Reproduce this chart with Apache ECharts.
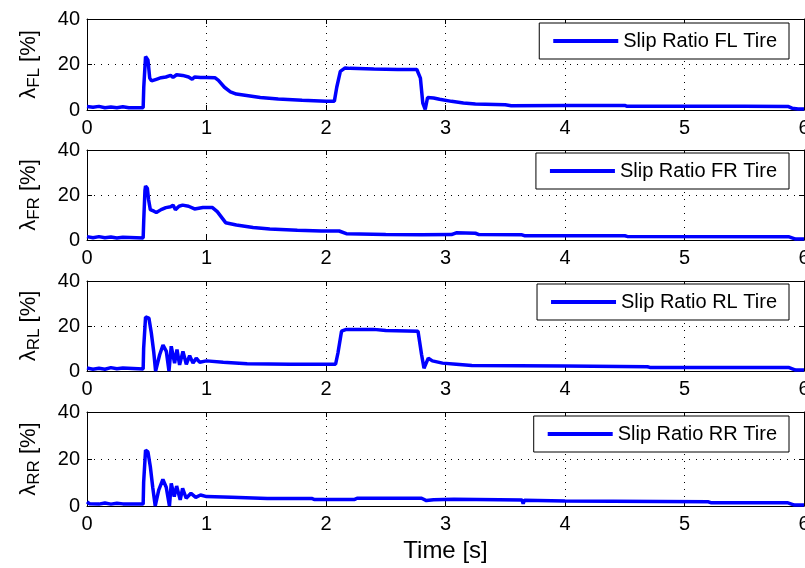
<!DOCTYPE html>
<html>
<head>
<meta charset="utf-8">
<script src="https://cdn.jsdelivr.net/npm/echarts@6/dist/echarts.min.js"></script>
<style>
  html, body { margin: 0; padding: 0; background: #fff; }
  #chart { width: 805px; height: 568px; }
</style>
</head>
<body>
<div id="chart"></div>
<script>
// slip ratio traces, [time s, slip %]
const slipFL = [[0,1.5],[0.05,1.2],[0.1,1.6],[0.15,1.0],[0.2,1.3],[0.25,1.0],[0.3,1.4],[0.35,1.0],[0.47,1.0],[0.475,10],[0.49,23.5],[0.5,24],[0.51,22],[0.525,14],[0.54,12.8],[0.58,13.5],[0.62,14.2],[0.66,14.5],[0.7,15.2],[0.72,14.3],[0.75,15.5],[0.8,15.2],[0.85,14.5],[0.88,13.5],[0.9,14.5],[0.95,14.3],[1.0,14.3],[1.07,14.2],[1.1,13],[1.15,10],[1.2,8],[1.25,7],[1.35,6.3],[1.45,5.5],[1.6,4.8],[1.8,4.3],[2.0,3.9],[2.07,3.9],[2.09,10],[2.12,17],[2.16,18.5],[2.2,18.3],[2.4,18],[2.6,17.8],[2.76,17.8],[2.79,14],[2.81,3],[2.83,0.3],[2.85,5.5],[2.9,5.3],[2.95,4.7],[3.05,3.8],[3.15,3.1],[3.25,2.6],[3.5,2.3],[3.55,1.9],[4.0,2.0],[4.5,2.0],[4.52,1.6],[5.0,1.6],[5.5,1.6],[5.87,1.5],[5.9,0.8],[5.95,0.4],[6.0,0.4]];
const slipFR = [[0,1.5],[0.05,1.0],[0.1,1.5],[0.15,1.0],[0.2,1.3],[0.25,0.9],[0.3,1.2],[0.47,0.9],[0.475,9],[0.485,22],[0.49,24],[0.505,23],[0.515,18],[0.53,13.5],[0.56,12.8],[0.58,12.2],[0.62,13.5],[0.66,14.4],[0.7,14.8],[0.72,15.5],[0.74,13.5],[0.77,15],[0.8,15.5],[0.85,15],[0.9,13.8],[0.97,14.4],[1.05,14.4],[1.09,12.6],[1.16,7.7],[1.25,6.7],[1.39,5.6],[1.53,4.9],[1.76,4.3],[1.96,4.0],[2.11,4.0],[2.17,2.8],[2.5,2.4],[2.8,2.3],[3.05,2.4],[3.09,3.2],[3.25,3.0],[3.28,2.4],[3.64,2.3],[3.66,1.9],[4.5,1.9],[4.52,1.6],[5.87,1.5],[5.93,0.4],[6.0,0.4]];
const slipRL = [[0,1.3],[0.05,0.8],[0.1,1.2],[0.15,0.8],[0.2,1.5],[0.25,1.0],[0.3,1.3],[0.47,0.9],[0.474,10],[0.49,24],[0.518,23.5],[0.538,17],[0.558,8.7],[0.574,0],[0.608,7.2],[0.636,11.5],[0.664,8.7],[0.686,0],[0.705,11],[0.733,3.5],[0.753,9.5],[0.775,2.7],[0.803,8.7],[0.831,3],[0.859,6.8],[0.887,3.5],[0.914,5.7],[0.942,3.9],[1.0,4.5],[1.14,3.9],[1.34,3.2],[1.7,3.0],[2.08,3.0],[2.1,8],[2.13,17.7],[2.17,18.5],[2.4,18.5],[2.5,18],[2.77,17.7],[2.8,7.2],[2.82,1.2],[2.856,5.7],[2.89,4.5],[2.975,3.5],[3.09,3.0],[3.22,2.4],[4.0,2.2],[4.69,1.9],[4.71,1.6],[5.87,1.6],[5.93,0.4],[6.0,0.4]];
const slipRR = [[0,1.8],[0.02,1.0],[0.1,0.8],[0.15,1.3],[0.2,0.8],[0.25,1.2],[0.3,0.9],[0.47,0.8],[0.474,10],[0.49,23.8],[0.51,23],[0.53,16.7],[0.55,8],[0.571,0],[0.6,6.8],[0.635,11.3],[0.663,8],[0.69,0],[0.705,9.6],[0.73,4],[0.75,8.5],[0.78,2.6],[0.8,7.5],[0.83,3.3],[0.87,5.4],[0.91,3.7],[0.95,4.7],[1.0,4.0],[1.21,3.7],[1.51,3.2],[1.88,3.2],[1.9,2.8],[2.24,2.8],[2.26,3.3],[2.8,3.3],[2.84,2.3],[2.9,2.7],[3.07,2.9],[3.64,2.6],[3.65,1.0],[3.66,2.4],[4.0,2.1],[5.2,1.8],[5.22,1.4],[5.86,1.4],[5.92,0.4],[6.0,0.4]];

const seriesData = [slipFL, slipFR, slipRL, slipRR];
const legendNames = ['Slip Ratio FL Tire', 'Slip Ratio FR Tire', 'Slip Ratio RL Tire', 'Slip Ratio RR Tire'];
const subscripts = ['FL', 'FR', 'RL', 'RR'];
const xTicks = [0, 1, 2, 3, 4, 5, 6];
const yTicks = [0, 20, 40];

// panel layout
const gridTops = [19, 150, 281, 412];
const gridHeights = [91, 90, 90, 94];
const legendTops = [23, 153, 284, 416];

const font = 'Liberation Sans, Arial, sans-serif';
const dotted = { color: '#000', width: 1, type: [1, 6] };

let grid = [], xAxis = [], yAxis = [], series = [], legend = [];

for (let i = 0; i < 4; i++) {
    grid.push({ left: 87, right: 1, top: gridTops[i], height: gridHeights[i], containLabel: false, outerBoundsMode: 'none' });
}
// bottom x axes
for (let i = 0; i < 4; i++) {
    xAxis.push({
        type: 'value', gridIndex: i, min: xTicks[0], max: xTicks[xTicks.length - 1], interval: 1,
        axisLine: { show: true, onZero: false, lineStyle: { color: '#000', width: 1 } },
        axisTick: { show: true, inside: true, length: 5, lineStyle: { color: '#000' } },
        axisLabel: { color: '#000', fontSize: 20, fontFamily: font, margin: 8 },
        splitLine: { show: true, lineStyle: dotted },
        name: i === 3 ? 'Time [s]' : '',
        nameLocation: 'middle', nameGap: 33,
        nameTextStyle: { color: '#000', fontSize: 24, fontFamily: font }
    });
}
// top x axes (box)
for (let i = 0; i < 4; i++) {
    xAxis.push({
        type: 'value', gridIndex: i, position: 'top', min: 0, max: 6, interval: 1,
        axisLine: { show: true, onZero: false, lineStyle: { color: '#000', width: 1 } },
        axisTick: { show: true, inside: true, length: 5, lineStyle: { color: '#000' } },
        axisLabel: { show: false }, splitLine: { show: false }
    });
}
// left y axes
for (let i = 0; i < 4; i++) {
    yAxis.push({
        type: 'value', gridIndex: i, min: yTicks[0], max: yTicks[yTicks.length - 1], interval: 20,
        axisLine: { show: true, onZero: false, lineStyle: { color: '#000', width: 1 } },
        axisTick: { show: true, inside: true, length: 5, lineStyle: { color: '#000' } },
        axisLabel: { color: '#000', fontSize: 20, fontFamily: font, margin: 7 },
        splitLine: { show: true, lineStyle: dotted },
        name: '{l|λ}{s|' + subscripts[i] + '}{l| [%]}',
        nameLocation: 'middle', nameGap: 44, nameRotate: 90,
        nameTextStyle: {
            color: '#000', fontFamily: font,
            rich: {
                l: { fontSize: 22, color: '#000', fontFamily: font },
                s: { fontSize: 17, color: '#000', fontFamily: font, padding: [12, 0, 0, 0] }
            }
        }
    });
}
// right y axes (box)
for (let i = 0; i < 4; i++) {
    yAxis.push({
        type: 'value', gridIndex: i, position: 'right', min: 0, max: 40, interval: 20,
        axisLine: { show: true, onZero: false, lineStyle: { color: '#000', width: 1 } },
        axisTick: { show: true, inside: true, length: 5, lineStyle: { color: '#000' } },
        axisLabel: { show: false }, splitLine: { show: false }
    });
}

for (let i = 0; i < 4; i++) {
    series.push({
        name: legendNames[i], type: 'line', xAxisIndex: i, yAxisIndex: i,
        data: seriesData[i], symbol: 'none', showSymbol: false,
        lineStyle: { color: '#0000ff', width: 3.5 }, itemStyle: { color: '#0000ff' },
        z: 3
    });
    legend.push({
        data: [legendNames[i]], right: 16, top: legendTops[i],
        icon: 'rect', itemWidth: 65, itemHeight: 4, padding: [7, 12, 7, 14],
        backgroundColor: '#fff', borderColor: '#000', borderWidth: 1,
        textStyle: { color: '#000', fontSize: 20, fontFamily: font, lineHeight: 22 },
        selectedMode: false
    });
}

const chart = echarts.init(document.getElementById('chart'));
chart.setOption({
    animation: false,
    backgroundColor: '#fff',
    grid: grid, xAxis: xAxis, yAxis: yAxis, series: series, legend: legend
});
</script>
</body>
</html>
